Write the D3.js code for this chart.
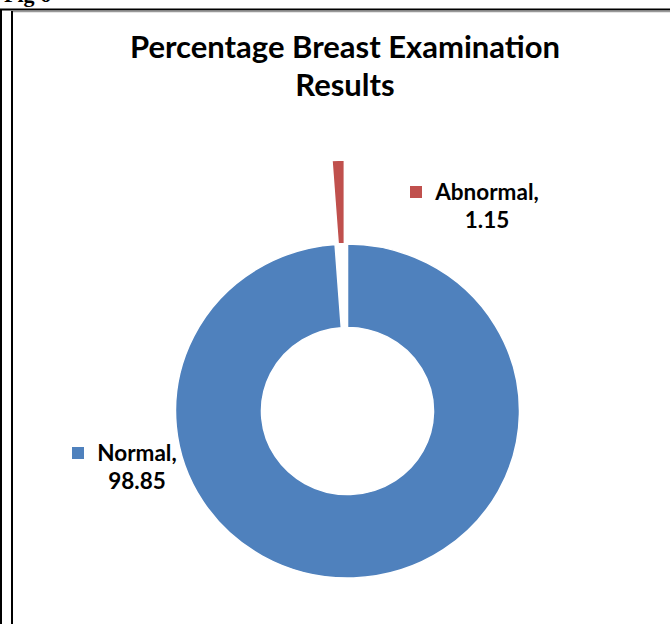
<!DOCTYPE html>
<html>
<head>
<meta charset="utf-8">
<script src="https://cdn.jsdelivr.net/npm/d3@7"></script>
<style>
  body { margin: 0; background: #fff; }
  svg { display: block; }
</style>
</head>
<body>
<script>
// data
var categories = ["Normal", "Abnormal"];
var values = [98.85, 1.15];
var colors = ["#4F81BD", "#C0504D"];
var titleLines = ["Percentage Breast Examination", "Results"];

var width = 670,
    height = 624;

var cx = 347.5, cy = 411,
    outerR = 167, innerR = 83.5,
    xStretch = 1.03,
    explode = 84;

var data = categories.map(function(c, i) {
  return {name: c, value: values[i]};
});

var color = d3.scaleOrdinal()
    .domain(categories)
    .range(colors);

var svg = d3.select("body").append("svg")
    .attr("width", width)
    .attr("height", height);

// "Fig 6" caption, mostly cut off above the picture
svg.append("text")
    .attr("x", 4)
    .attr("y", 2)
    .style("font-family", "'Liberation Serif', serif")
    .style("font-weight", "bold")
    .style("font-size", "22px")
    .text("Fig 6");

// frame lines
svg.append("line")
    .attr("x1", 0).attr("x2", width)
    .attr("y1", 9.5).attr("y2", 9.5)
    .style("stroke", "#000").style("stroke-width", 2);
svg.append("line")
    .attr("x1", 12).attr("x2", width)
    .attr("y1", 11.5).attr("y2", 11.5)
    .style("stroke", "#999").style("stroke-width", 1.5);
svg.append("line")
    .attr("x1", 1).attr("x2", 1)
    .attr("y1", 9).attr("y2", height)
    .style("stroke", "#000").style("stroke-width", 2);
svg.append("line")
    .attr("x1", 12).attr("x2", 12)
    .attr("y1", 11).attr("y2", height)
    .style("stroke", "#000").style("stroke-width", 2);

// title
svg.append("text")
    .attr("text-anchor", "middle")
    .style("font-family", "Lato, 'Open Sans', sans-serif")
    .style("font-weight", "bold")
    .style("font-size", "31px")
    .style("fill", "#000")
  .selectAll("tspan")
    .data(titleLines)
  .enter().append("tspan")
    .attr("x", 345)
    .attr("y", function(d, i) { return 58 + i * 38; })
    .text(function(d) { return d; });

// doughnut
var pie = d3.pie()
    .sort(null)
    .value(function(d) { return d.value; });

var arc = d3.arc()
    .innerRadius(innerR)
    .outerRadius(outerR);

var g = svg.append("g")
    .attr("transform", "translate(" + cx + "," + cy + ") scale(" + xStretch + ",1)");

g.selectAll(".slice")
    .data(pie(data))
  .enter().append("path")
    .attr("class", "slice")
    .attr("d", arc)
    .attr("transform", function(d) {
      if (d.data.name !== "Abnormal") return null;
      var a = (d.startAngle + d.endAngle) / 2;
      return "translate(" + (Math.sin(a) * explode) + "," + (-Math.cos(a) * explode) + ")";
    })
    .style("fill", function(d) { return color(d.data.name); })
    .style("stroke", "#fff")
    .style("stroke-width", 1.5);

// data labels with legend keys
var labelPos = {
  "Abnormal": {key: [410, 186], x: 487, y: 200},
  "Normal": {key: [72, 447], x: 137, y: 461}
};

var labels = svg.selectAll(".label")
    .data(data)
  .enter().append("g")
    .attr("class", "label");

labels.append("rect")
    .attr("x", function(d) { return labelPos[d.name].key[0]; })
    .attr("y", function(d) { return labelPos[d.name].key[1]; })
    .attr("width", 12)
    .attr("height", 12)
    .style("fill", function(d) { return color(d.name); });

var lt = labels.append("text")
    .attr("text-anchor", "middle")
    .style("font-family", "Lato, 'Open Sans', sans-serif")
    .style("font-weight", "bold")
    .style("font-size", "22.5px")
    .style("fill", "#000");

lt.append("tspan")
    .attr("x", function(d) { return labelPos[d.name].x; })
    .attr("y", function(d) { return labelPos[d.name].y; })
    .text(function(d) { return d.name + ","; });

lt.append("tspan")
    .attr("x", function(d) { return labelPos[d.name].x; })
    .attr("y", function(d) { return labelPos[d.name].y + 28; })
    .text(function(d) { return d3.format(".2f")(d.value); });
</script>
</body>
</html>
